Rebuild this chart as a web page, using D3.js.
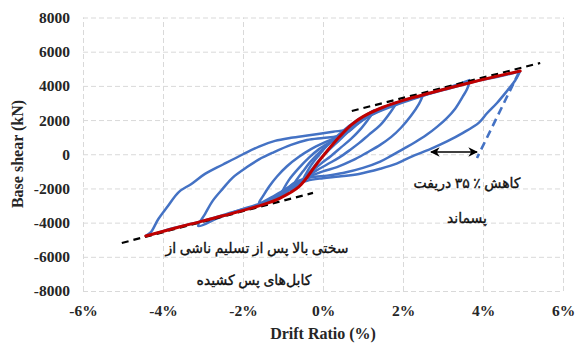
<!DOCTYPE html>
<html>
<head>
<meta charset="utf-8">
<script src="https://cdn.jsdelivr.net/npm/d3@7/dist/d3.min.js"></script>
<style>
  html, body { margin: 0; padding: 0; background: #fff; }
  svg { display: block; }
  .tick text { font-family: "Liberation Serif", "Times New Roman", serif; font-weight: bold; font-size: 15.5px; fill: #262626; }
  .axis-title { font-family: "Liberation Serif", "Times New Roman", serif; font-weight: bold; font-size: 16px; fill: #262626; }
  .note { font-family: "Liberation Serif", "DejaVu Sans", serif; font-size: 14px; fill: #111; stroke: #111; stroke-width: 0.35px; }
</style>
</head>
<body>
<svg id="chart" width="576" height="344"></svg>
<script>
// Axis ticks
const driftTicks = [-6, -4, -2, 0, 2, 4, 6];
const shearTicks = [-8000, -6000, -4000, -2000, 0, 2000, 4000, 6000, 8000];

// Hysteresis cycles, [drift %, base shear kN]; each runs peak(+) -> unload -> peak(-) -> reload -> peak(+)
const cycle1 = [
  [4.93, 4870], [4.8, 4300], [4.6, 3700], [4.35, 3000], [4.1, 2400], [3.9, 1850], [3.5, 1250], [3.1, 750],
  [2.68, 300], [2.2, -150], [1.84, -550], [1.43, -850], [0.9, -1150], [0.4, -1300], [0.0, -1400], [-0.4, -1550],
  [-0.8, -1900], [-1.1, -2450], [-1.5, -2900], [-2.2, -3350], [-3.0, -3900], [-3.8, -4350], [-4.43, -4780],
  [-4.3, -4550], [-4.12, -3800], [-3.9, -3100], [-3.6, -2200], [-3.3, -1750], [-2.95, -1150], [-2.5, -600],
  [-2.0, 0], [-1.6, 450], [-1.2, 780], [-0.8, 960], [-0.3, 1120], [0.25, 1320], [0.6, 1450], [0.85, 1900],
  [1.2, 2450], [1.7, 2900], [2.3, 3300], [3.0, 3750], [3.8, 4250], [4.5, 4600], [4.93, 4870]
];
const cycle2 = [
  [3.68, 4350], [3.6, 3800], [3.5, 3400], [3.3, 2650], [3.09, 2100], [2.85, 1600], [2.6, 1150], [2.3, 700],
  [2.0, 300], [1.7, -100], [1.43, -430], [1.0, -800], [0.5, -1100], [0.1, -1250], [-0.3, -1350], [-0.7, -1650],
  [-1.0, -2200], [-1.4, -2750], [-2.0, -3200], [-2.6, -3700], [-3.12, -4200],
  [-2.95, -3500], [-2.75, -2700], [-2.5, -2000], [-2.25, -1350], [-1.9, -750], [-1.6, -300], [-1.25, 100],
  [-0.8, 550], [-0.4, 830], [0.0, 950], [0.35, 1050], [0.65, 1350], [0.95, 1950], [1.35, 2450], [1.9, 2950],
  [2.6, 3500], [3.2, 3950], [3.68, 4350]
];
const cycle3 = [
  [2.5, 3450], [2.4, 2950], [2.2, 2250], [1.95, 1550], [1.7, 1000], [1.43, 550], [1.1, 100], [0.75, -350],
  [0.35, -750], [0.0, -1000], [-0.4, -1350], [-0.8, -1850], [-1.2, -2400], [-1.6, -2850],
  [-1.5, -2450], [-1.35, -1900], [-1.15, -1300], [-0.9, -700], [-0.6, -150], [-0.3, 300], [0.0, 650],
  [0.3, 950], [0.55, 1200], [0.85, 1750], [1.2, 2300], [1.7, 2850], [2.1, 3200], [2.5, 3450]
];
const cycle4 = [
  [1.85, 3050], [1.7, 2500], [1.43, 1700], [1.15, 1150], [0.9, 650], [0.675, 250], [0.4, -200], [0.1, -600],
  [-0.2, -1000], [-0.5, -1500], [-0.8, -2000], [-1.1, -2550],
  [-1.0, -2100], [-0.85, -1500], [-0.6, -800], [-0.35, -200], [-0.1, 300], [0.2, 750], [0.5, 1150],
  [0.8, 1700], [1.2, 2350], [1.55, 2750], [1.85, 3050]
];
const cycle5 = [
  [1.3, 2600], [1.15, 2100], [0.95, 1500], [0.7, 900], [0.45, 400], [0.2, -100], [-0.05, -550], [-0.3, -1050],
  [-0.55, -1600], [-0.8, -2150],
  [-0.7, -1650], [-0.5, -1000], [-0.3, -400], [-0.05, 200], [0.2, 700], [0.5, 1250], [0.8, 1850], [1.05, 2250], [1.3, 2600]
];
const cycle6 = [
  [0.95, 2150], [0.8, 1700], [0.6, 1250], [0.4, 800], [0.15, 250], [-0.1, -350], [-0.3, -950], [-0.55, -1750],
  [-0.45, -1250], [-0.3, -650], [-0.1, -50], [0.1, 500], [0.35, 1050], [0.65, 1650], [0.95, 2150]
];
const cycles = [cycle1, cycle2, cycle3, cycle4, cycle5, cycle6];

// Envelope (backbone) curve
const backbone = [
  [-4.43, -4780], [-3.5, -4200], [-2.5, -3600], [-1.5, -2950], [-1.1, -2600], [-0.6, -1900], [-0.15, -550],
  [0.25, 600], [0.7, 1700], [1.0, 2200], [1.5, 2750], [2.0, 3150], [2.7, 3600], [3.7, 4200], [4.93, 4870]
];

// Post-yield stiffness tangents
const tangentPos = [[0.72, 2530], [5.43, 5340]];
const tangentNeg = [[-5.03, -5190], [-0.25, -2260]];

// Unloading to the residual drift, and the reduction it marks
const residualLine = [[4.9, 4800], [3.85, -220]];
const residualArrow = [[2.7, 130], [3.85, 130]];

const svg = d3.select("#chart");
const x = d3.scaleLinear().domain([-6, 6]).range([83, 563]);
const y = d3.scaleLinear().domain([-8000, 8000]).range([291, 17.5]);

// Grid + tick labels
const gx = svg.append("g").attr("transform", `translate(0,${y(-8000)})`)
  .call(d3.axisBottom(x).tickValues(driftTicks).tickFormat(d => d + "%")
    .tickSizeInner(-(y(-8000) - y(8000))).tickSizeOuter(0).tickPadding(14));
const gy = svg.append("g").attr("transform", `translate(${x(-6)},0)`)
  .call(d3.axisLeft(y).tickValues(shearTicks).tickFormat(d => String(d))
    .tickSizeInner(-(x(6) - x(-6))).tickSizeOuter(0).tickPadding(13));
[gx, gy].forEach(g => {
  g.select(".domain").remove();
  g.selectAll(".tick line").attr("stroke", "#d9d9d9").attr("stroke-width", 1).attr("stroke-dasharray", "5,3");
});

const line = d3.line().x(d => x(d[0])).y(d => y(d[1]));
const smooth = d3.line().x(d => x(d[0])).y(d => y(d[1])).curve(d3.curveCatmullRom.alpha(0.5));

// Hysteresis loops
svg.append("g").selectAll("path").data(cycles).join("path")
  .attr("d", smooth).attr("fill", "none").attr("stroke", "#4472c4")
  .attr("stroke-width", 2.5).attr("stroke-linejoin", "round");

// Residual drift unloading line
svg.append("path").attr("d", line(residualLine)).attr("fill", "none")
  .attr("stroke", "#4472c4").attr("stroke-width", 2.6).attr("stroke-dasharray", "8,5");

// Tangent lines
svg.append("g").selectAll("path").data([tangentPos, tangentNeg]).join("path")
  .attr("d", line).attr("fill", "none").attr("stroke", "#000")
  .attr("stroke-width", 2.2).attr("stroke-dasharray", "7,5");

// Backbone
svg.append("path").attr("d", smooth(backbone)).attr("fill", "none")
  .attr("stroke", "#c00000").attr("stroke-width", 3).attr("stroke-linecap", "round");

// Double arrow
const defs = svg.append("defs");
defs.append("marker").attr("id", "ah").attr("viewBox", "0 0 10 10").attr("refX", 9).attr("refY", 5)
  .attr("markerWidth", 6).attr("markerHeight", 6).attr("orient", "auto-start-reverse")
  .append("path").attr("d", "M0,0 L10,5 L0,10 L3,5 Z").attr("fill", "#000");
svg.append("path").attr("d", line(residualArrow)).attr("stroke", "#000").attr("stroke-width", 1.6)
  .attr("marker-start", "url(#ah)").attr("marker-end", "url(#ah)");

// Axis titles
svg.append("text").attr("class", "axis-title").attr("x", 323).attr("y", 339)
  .attr("text-anchor", "middle").text("Drift Ratio (%)");
svg.append("text").attr("class", "axis-title").attr("transform", "translate(23,154) rotate(-90)")
  .attr("text-anchor", "middle").text("Base shear (kN)");

// Notes
const notes = [
  { t: "کاهش ٪ ۳۵ دریفت", cx: 467, cy: 188 },
  { t: "پسماند", cx: 467, cy: 223 },
  { t: "سختی بالا پس از تسلیم ناشی از", cx: 257, cy: 253 },
  { t: "کابل‌های پس کشیده", cx: 254, cy: 285 }
];
svg.append("g").selectAll("text").data(notes).join("text").attr("class", "note")
  .attr("x", d => d.cx).attr("y", d => d.cy).attr("text-anchor", "middle").text(d => d.t);
</script>
</body>
</html>
